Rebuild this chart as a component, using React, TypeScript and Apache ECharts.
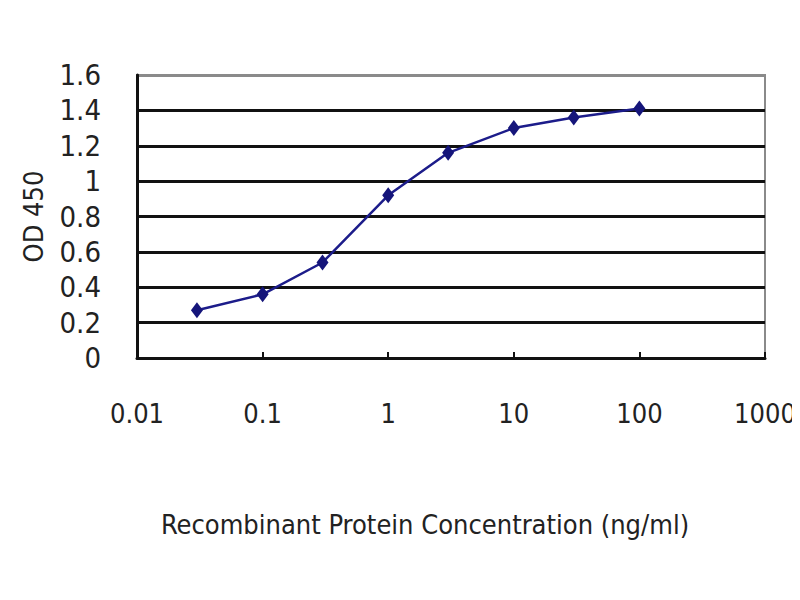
import React, { useEffect, useRef } from "react";
import * as echarts from "echarts";

// concentration (ng/ml) and OD 450 readings
const concentrations = [0.03, 0.1, 0.3, 1, 3, 10, 30, 100];
const odValues = [0.27, 0.36, 0.54, 0.92, 1.16, 1.3, 1.36, 1.41];
const yTicks = [0, 0.2, 0.4, 0.6, 0.8, 1, 1.2, 1.4, 1.6];

const FONT = "'DejaVu Sans Condensed', 'Liberation Sans', Arial, sans-serif";

const App = () => {
  const chartRef = useRef<HTMLDivElement>(null);

  useEffect(() => {
    if (!chartRef.current) return;
    const chart = echarts.init(chartRef.current, undefined, { renderer: "svg" });

    const gridColors = yTicks.map((_, i) => (i === yTicks.length - 1 ? "#8a8a8a" : "#111111"));

    chart.setOption({
      animation: false,
      backgroundColor: "#ffffff",
      grid: {
        left: 137,
        right: 35,
        top: 75,
        bottom: 242,
        outerBoundsMode: "none",
        show: true,
        borderColor: "#8a8a8a",
        borderWidth: 2,
      },
      xAxis: {
        type: "log",
        logBase: 10,
        min: 0.01,
        max: 1000,
        name: "Recombinant Protein Concentration (ng/ml)",
        nameLocation: "middle",
        nameGap: 153,
        nameTextStyle: {
          fontFamily: FONT,
          fontSize: 27,
          color: "#222",
          padding: [0, 52, 0, 0],
        },
        axisLine: { lineStyle: { color: "#111", width: 3 } },
        axisTick: { inside: true, length: 6, lineStyle: { color: "#111", width: 2 } },
        splitLine: { show: false },
        axisLabel: {
          margin: 42,
          fontFamily: FONT,
          fontSize: 27,
          color: "#222",
          formatter: (v: number) => String(Number(v.toPrecision(3))),
        },
      },
      yAxis: {
        type: "value",
        min: 0,
        max: 1.6,
        interval: 0.2,
        name: "OD 450",
        nameLocation: "middle",
        nameGap: 90,
        nameRotate: 90,
        nameTextStyle: { fontFamily: FONT, fontSize: 27, color: "#222" },
        axisLine: { show: true, lineStyle: { color: "#111", width: 3 } },
        axisTick: { show: false },
        splitLine: { lineStyle: { color: gridColors, width: 3 } },
        axisLabel: {
          margin: 36,
          fontFamily: FONT,
          fontSize: 29,
          color: "#222",
          formatter: (v: number) => String(Number(v.toFixed(1))),
        },
      },
      series: [
        {
          type: "line",
          data: concentrations.map((c, i) => [c, odValues[i]]),
          symbol: "diamond",
          symbolSize: [12, 16],
          lineStyle: { color: "#1c1c8a", width: 2.5 },
          itemStyle: { color: "#15157a" },
        },
      ],
    });

    return () => {
      chart.dispose();
    };
  }, []);

  return <div ref={chartRef} style={{ width: "800px", height: "600px", margin: "-8px" }} />;
};

export default App;
